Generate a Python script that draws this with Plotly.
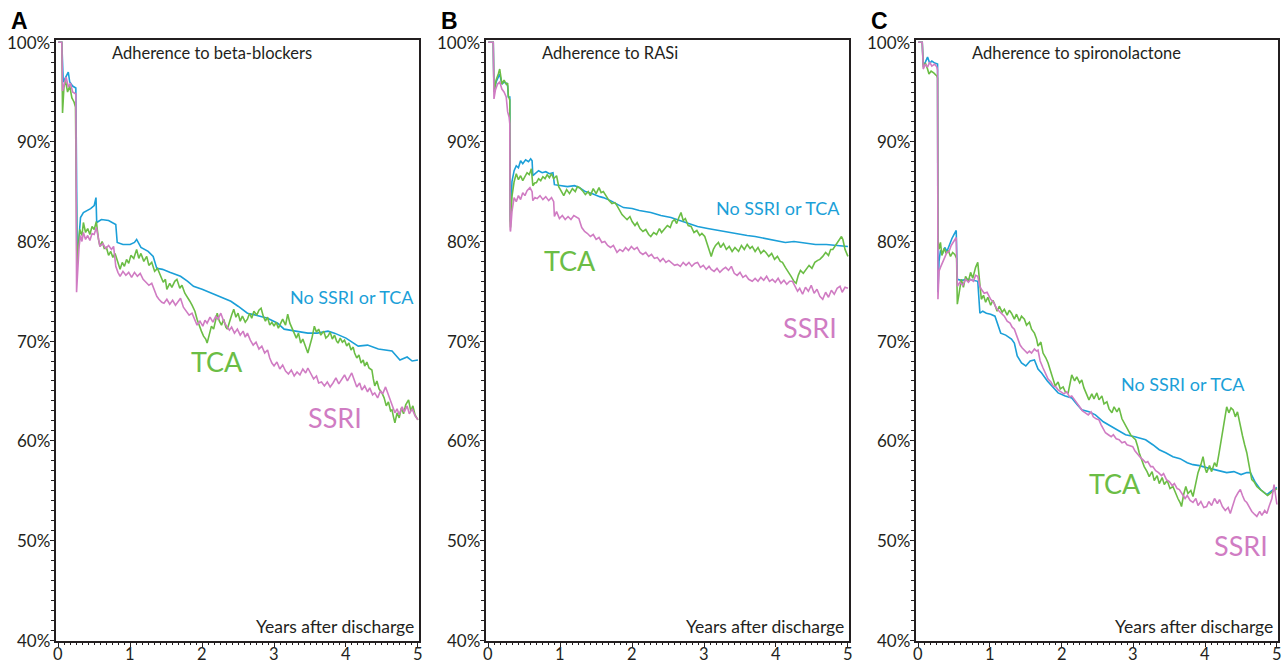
import plotly.graph_objects as go

W, H = 1285, 667
BLUE = '#1b9fd8'
GREEN = '#6bbd45'
PINK = '#d07cc3'
AX = '#231f20'

# ---------------- data ----------------
X_TICKS = [0, 1, 2, 3, 4, 5]
X_TICK_LABELS = ['0', '1', '2', '3', '4', '5']
Y_TICKS = [40, 50, 60, 70, 80, 90, 100]
Y_TICK_LABELS = ['40%', '50%', '60%', '70%', '80%', '90%', '100%']

PANEL_LETTERS = ['A', 'B', 'C']
PANEL_TITLES = ['Adherence to beta-blockers', 'Adherence to RASi', 'Adherence to spironolactone']
SERIES_NAMES = ['No SSRI or TCA', 'TCA', 'SSRI']

# Panel A - beta-blockers
A_none_t = [0, 0.05, 0.07, 0.10, 0.14, 0.16, 0.20, 0.245, 0.265, 0.29, 0.31, 0.35, 0.40, 0.45, 0.50, 0.525, 0.535, 0.60, 0.70, 0.80, 0.82, 0.90, 1.00, 1.06, 1.09, 1.15, 1.25, 1.32, 1.37, 1.45, 1.55, 1.70, 1.80, 1.88, 2.00, 2.16, 2.30, 2.40, 2.50, 2.63, 2.75, 2.91, 3.05, 3.14, 3.30, 3.47, 3.60, 3.75, 3.84, 4.00, 4.17, 4.30, 4.45, 4.64, 4.75, 4.85, 4.92, 5.0]
A_none_v = [100, 100, 96.0, 96.5, 97.0, 96.0, 95.6, 95.4, 77.7, 80.5, 82.4, 82.9, 83.1, 83.3, 83.6, 84.4, 81.9, 82.2, 82.1, 81.7, 79.9, 79.7, 79.7, 79.9, 80.2, 79.4, 79.0, 78.5, 77.3, 77.2, 76.9, 76.5, 76.0, 75.5, 75.2, 74.7, 74.3, 74.0, 73.5, 72.8, 72.6, 72.3, 71.8, 71.2, 71.0, 70.8, 70.8, 71.0, 70.8, 70.3, 69.5, 69.6, 69.2, 69.0, 68.1, 68.4, 68.0, 68.1]

A_tca_t = [0, 0.05, 0.06, 0.08, 0.10, 0.13, 0.16, 0.19, 0.22, 0.24, 0.245, 0.26, 0.28, 0.30, 0.33, 0.35, 0.38, 0.41, 0.44, 0.47, 0.50, 0.53, 0.56, 0.58, 0.61, 0.64, 0.67, 0.70, 0.73, 0.76, 0.79, 0.83, 0.86, 0.89, 0.92, 0.95, 0.98, 1.01, 1.05, 1.09, 1.12, 1.15, 1.19, 1.23, 1.26, 1.30, 1.34, 1.38, 1.42, 1.46, 1.49, 1.51, 1.55, 1.58, 1.62, 1.65, 1.69, 1.72, 1.76, 1.79, 1.83, 1.86, 1.90, 1.93, 1.96, 1.99, 2.02, 2.05, 2.07, 2.10, 2.13, 2.16, 2.19, 2.21, 2.24, 2.27, 2.30, 2.33, 2.35, 2.38, 2.41, 2.44, 2.47, 2.50, 2.53, 2.56, 2.60, 2.63, 2.66, 2.69, 2.72, 2.76, 2.79, 2.82, 2.85, 2.88, 2.91, 2.94, 2.97, 3.00, 3.03, 3.06, 3.09, 3.12, 3.16, 3.19, 3.22, 3.25, 3.28, 3.31, 3.34, 3.37, 3.40, 3.44, 3.47, 3.50, 3.53, 3.56, 3.59, 3.62, 3.65, 3.69, 3.72, 3.75, 3.78, 3.81, 3.84, 3.87, 3.89, 3.92, 3.95, 3.98, 4.01, 4.04, 4.07, 4.10, 4.12, 4.15, 4.18, 4.21, 4.24, 4.26, 4.29, 4.32, 4.36, 4.38, 4.40, 4.43, 4.46, 4.50, 4.53, 4.56, 4.59, 4.62, 4.64, 4.66, 4.68, 4.71, 4.74, 4.77, 4.80, 4.83, 4.87, 4.90, 4.93, 4.96, 5.0]
A_tca_v = [100, 100, 92.9, 95.5, 96.2, 95.0, 95.6, 94.4, 94.0, 93.5, 89.4, 77.4, 79.5, 81.2, 80.6, 81.9, 80.9, 81.3, 80.7, 81.5, 81.2, 82.0, 80.2, 79.5, 80.0, 79.3, 79.4, 78.6, 79.0, 78.4, 78.8, 77.8, 77.2, 77.9, 77.5, 78.2, 77.8, 78.6, 78.3, 79.2, 78.3, 78.8, 78.0, 78.5, 77.6, 77.9, 77.0, 77.3, 76.5, 75.9, 76.2, 75.2, 75.8, 75.4, 76.0, 76.2, 75.3, 75.6, 74.8, 74.5, 74.0, 73.6, 73.0, 72.2, 71.5, 71.0, 70.5, 70.2, 69.8, 70.8, 71.5, 71.2, 72.3, 72.8, 72.0, 71.6, 72.2, 71.4, 71.2, 72.0, 72.6, 73.2, 72.4, 72.8, 72.0, 72.5, 71.9, 72.2, 72.8, 72.3, 73.0, 72.6, 73.1, 73.3, 72.5, 72.0, 72.4, 71.6, 71.9, 71.5, 71.9, 71.3, 71.8, 72.2, 71.6, 72.7, 71.8, 71.2, 70.8, 70.3, 70.8, 69.8, 70.2, 69.4, 68.8, 69.6, 70.4, 71.5, 70.9, 71.2, 70.6, 71.0, 70.3, 70.5, 70.9, 70.2, 70.6, 70.0, 69.8, 70.3, 69.9, 70.1, 69.5, 69.8, 69.1, 69.4, 68.8, 68.3, 68.6, 67.8, 68.1, 67.5, 67.9, 67.3, 67.1, 66.2, 65.5, 66.0, 65.2, 64.8, 64.3, 63.5, 63.9, 63.0, 63.1, 62.4, 61.8, 62.8, 62.3, 63.3, 62.7, 63.6, 64.1, 63.0, 63.5, 62.6, 62.1]

A_ssri_t = [0, 0.05, 0.06, 0.08, 0.11, 0.14, 0.17, 0.20, 0.245, 0.255, 0.27, 0.29, 0.31, 0.33, 0.35, 0.38, 0.41, 0.44, 0.47, 0.50, 0.53, 0.56, 0.58, 0.62, 0.66, 0.70, 0.74, 0.77, 0.80, 0.83, 0.86, 0.90, 0.94, 0.98, 1.02, 1.06, 1.10, 1.14, 1.18, 1.22, 1.26, 1.30, 1.33, 1.37, 1.40, 1.44, 1.47, 1.51, 1.55, 1.59, 1.63, 1.67, 1.70, 1.74, 1.78, 1.82, 1.86, 1.89, 1.93, 1.97, 2.01, 2.04, 2.07, 2.11, 2.15, 2.19, 2.22, 2.26, 2.30, 2.34, 2.38, 2.41, 2.45, 2.49, 2.53, 2.57, 2.60, 2.63, 2.67, 2.71, 2.75, 2.79, 2.83, 2.87, 2.91, 2.94, 2.97, 3.00, 3.04, 3.08, 3.12, 3.16, 3.20, 3.24, 3.28, 3.32, 3.36, 3.40, 3.44, 3.47, 3.51, 3.55, 3.59, 3.62, 3.66, 3.70, 3.74, 3.78, 3.82, 3.86, 3.90, 3.94, 3.98, 4.02, 4.05, 4.08, 4.12, 4.15, 4.19, 4.22, 4.26, 4.30, 4.33, 4.37, 4.40, 4.44, 4.48, 4.51, 4.55, 4.59, 4.62, 4.65, 4.68, 4.71, 4.74, 4.78, 4.81, 4.85, 4.88, 4.92, 4.96, 5.0]
A_ssri_v = [100, 100, 95.1, 95.8, 96.5, 95.5, 95.9, 95.0, 94.8, 74.9, 77.5, 79.5, 80.6, 80.0, 80.9, 80.2, 80.6, 80.1, 80.8, 80.7, 81.4, 80.2, 79.5, 79.8, 79.3, 79.6, 79.2, 79.5, 77.5, 76.9, 76.5, 77.0, 76.6, 76.9, 76.4, 76.9, 76.5, 76.8, 76.2, 75.9, 75.6, 75.8, 75.2, 74.5, 74.2, 73.9, 73.8, 74.2, 73.7, 74.1, 73.6, 74.0, 74.3, 73.4, 73.0, 72.6, 72.8, 72.2, 71.6, 72.0, 71.5, 72.1, 71.8, 72.4, 71.9, 72.5, 72.2, 72.8, 72.0, 71.5, 71.1, 71.4, 70.8, 71.2, 70.6, 71.0, 70.4, 70.8, 70.1, 69.6, 69.9, 69.2, 69.5, 68.8, 69.1, 68.3, 67.8, 67.5, 67.9, 67.2, 67.6, 67.0, 66.7, 67.1, 66.5, 66.9, 66.6, 67.2, 66.8, 67.3, 66.7, 66.2, 66.5, 65.8, 65.9, 65.5, 65.9, 65.4, 65.8, 66.3, 65.7, 66.1, 66.6, 66.0, 66.4, 66.8, 66.0, 65.4, 65.8, 65.1, 65.5, 64.9, 65.3, 64.6, 64.8, 64.3, 65.0, 64.7, 65.4, 64.6, 63.9, 63.3, 62.8, 63.2, 62.6, 63.4, 62.9, 63.5, 62.7, 63.2, 62.5, 62.1]

# Panel B - RASi
B_none_t = [0, 0.07, 0.08, 0.11, 0.14, 0.16, 0.19, 0.22, 0.25, 0.27, 0.28, 0.30, 0.305, 0.31, 0.33, 0.36, 0.39, 0.42, 0.45, 0.48, 0.52, 0.56, 0.59, 0.61, 0.62, 0.66, 0.70, 0.75, 0.80, 0.85, 0.90, 0.92, 1.00, 1.10, 1.20, 1.27, 1.35, 1.45, 1.55, 1.60, 1.70, 1.80, 1.88, 2.00, 2.10, 2.26, 2.40, 2.54, 2.70, 2.80, 2.91, 3.05, 3.20, 3.29, 3.45, 3.60, 3.71, 3.85, 4.00, 4.13, 4.25, 4.41, 4.55, 4.70, 4.85, 5.0]
B_none_v = [100, 100, 95.1, 96.0, 96.5, 96.8, 95.8, 96.0, 95.9, 95.6, 94.5, 94.5, 83.1, 82.0, 86.0, 87.1, 87.6, 87.4, 88.1, 87.8, 88.2, 88.0, 88.3, 88.1, 86.6, 86.9, 87.1, 86.9, 87.0, 86.8, 86.9, 85.7, 85.6, 85.5, 85.6, 85.4, 85.0, 84.8, 84.5, 84.4, 84.1, 83.7, 83.4, 83.3, 83.1, 82.9, 82.6, 82.4, 82.0, 81.8, 81.5, 81.3, 81.1, 81.0, 80.8, 80.6, 80.5, 80.3, 80.1, 79.9, 80.0, 79.8, 79.7, 79.7, 79.6, 79.5]

B_tca_t = [0, 0.07, 0.08, 0.11, 0.14, 0.16, 0.19, 0.22, 0.25, 0.27, 0.28, 0.30, 0.305, 0.31, 0.33, 0.36, 0.39, 0.42, 0.45, 0.48, 0.51, 0.54, 0.57, 0.60, 0.62, 0.65, 0.67, 0.70, 0.73, 0.76, 0.79, 0.82, 0.85, 0.88, 0.91, 0.95, 0.98, 1.02, 1.05, 1.09, 1.13, 1.17, 1.21, 1.24, 1.27, 1.31, 1.35, 1.39, 1.42, 1.46, 1.50, 1.54, 1.57, 1.60, 1.64, 1.68, 1.72, 1.76, 1.79, 1.83, 1.86, 1.90, 1.93, 1.97, 2.00, 2.04, 2.07, 2.11, 2.15, 2.19, 2.23, 2.26, 2.30, 2.34, 2.38, 2.41, 2.45, 2.49, 2.53, 2.56, 2.59, 2.62, 2.65, 2.68, 2.71, 2.74, 2.78, 2.82, 2.86, 2.90, 2.94, 2.97, 3.01, 3.04, 3.07, 3.10, 3.13, 3.16, 3.20, 3.23, 3.27, 3.31, 3.35, 3.39, 3.43, 3.48, 3.52, 3.56, 3.60, 3.64, 3.67, 3.71, 3.75, 3.79, 3.83, 3.86, 3.90, 3.94, 3.98, 4.02, 4.06, 4.09, 4.13, 4.17, 4.21, 4.25, 4.28, 4.31, 4.34, 4.38, 4.42, 4.46, 4.50, 4.54, 4.58, 4.61, 4.65, 4.69, 4.73, 4.76, 4.79, 4.83, 4.87, 4.91, 4.93, 4.96, 5.0]
B_tca_v = [100, 100, 95.0, 96.2, 96.8, 97.3, 95.8, 96.2, 95.8, 95.9, 94.6, 94.2, 82.0, 81.4, 84.5, 86.0, 86.8, 86.2, 86.6, 86.1, 86.5, 86.9, 86.7, 87.3, 85.6, 85.9, 85.9, 86.3, 86.1, 86.5, 86.3, 86.7, 86.4, 86.8, 86.3, 86.6, 85.5, 84.9, 84.6, 85.2, 84.8, 85.3, 85.0, 85.5, 85.4, 85.1, 84.7, 85.0, 84.6, 85.3, 84.8, 85.4, 84.9, 85.0, 84.5, 84.1, 83.8, 83.9, 83.6, 83.0, 82.7, 82.4, 82.2, 82.5, 82.0, 81.6, 81.9, 81.3, 81.0, 81.2, 80.7, 80.5, 80.9, 80.7, 81.3, 80.9, 81.2, 81.6, 81.4, 82.0, 82.2, 81.8, 82.4, 82.9, 82.1, 82.3, 81.6, 81.5, 80.9, 81.1, 80.6, 80.8, 80.5, 79.9, 79.3, 78.5, 79.2, 79.6, 79.9, 79.4, 79.8, 79.2, 79.5, 79.0, 79.4, 79.0, 79.6, 79.2, 79.7, 79.3, 79.5, 79.0, 79.4, 78.8, 79.1, 78.9, 78.5, 78.8, 78.2, 78.5, 78.0, 77.9, 77.4, 77.0, 76.5, 76.0, 75.8, 76.6, 77.1, 76.8, 77.2, 77.6, 77.3, 77.9, 78.1, 78.2, 78.5, 78.9, 78.6, 79.2, 79.2, 79.6, 80.0, 80.5, 80.2, 79.2, 78.5]

B_ssri_t = [0, 0.07, 0.08, 0.10, 0.13, 0.16, 0.19, 0.22, 0.25, 0.27, 0.29, 0.30, 0.305, 0.31, 0.33, 0.36, 0.39, 0.42, 0.45, 0.48, 0.51, 0.54, 0.58, 0.61, 0.62, 0.65, 0.68, 0.72, 0.76, 0.80, 0.84, 0.88, 0.91, 0.92, 0.95, 0.99, 1.03, 1.07, 1.11, 1.15, 1.19, 1.23, 1.26, 1.30, 1.34, 1.38, 1.42, 1.46, 1.50, 1.54, 1.58, 1.62, 1.66, 1.70, 1.74, 1.79, 1.83, 1.87, 1.91, 1.95, 1.99, 2.03, 2.07, 2.11, 2.15, 2.19, 2.23, 2.27, 2.31, 2.35, 2.39, 2.43, 2.47, 2.51, 2.55, 2.59, 2.63, 2.67, 2.71, 2.75, 2.79, 2.83, 2.87, 2.91, 2.95, 2.99, 3.03, 3.07, 3.10, 3.14, 3.18, 3.22, 3.26, 3.30, 3.34, 3.38, 3.42, 3.46, 3.50, 3.54, 3.58, 3.62, 3.67, 3.71, 3.75, 3.79, 3.83, 3.87, 3.91, 3.95, 3.99, 4.03, 4.07, 4.11, 4.15, 4.19, 4.23, 4.27, 4.30, 4.33, 4.37, 4.41, 4.45, 4.49, 4.53, 4.57, 4.61, 4.65, 4.69, 4.73, 4.77, 4.81, 4.85, 4.89, 4.92, 4.96, 5.0]
B_ssri_v = [100, 100, 94.3, 95.2, 95.8, 96.0, 95.3, 95.0, 94.5, 93.0, 92.5, 91.8, 81.2, 81.0, 83.0, 84.4, 84.0, 84.6, 84.2, 84.9, 84.6, 85.1, 85.4, 85.0, 84.1, 84.4, 84.3, 84.6, 84.2, 84.5, 84.1, 84.4, 84.0, 82.5, 83.0, 82.3, 82.6, 82.2, 82.5, 82.2, 82.6, 82.4, 82.3, 81.4, 81.0, 80.8, 80.5, 80.7, 80.2, 80.4, 79.9, 80.0, 79.6, 79.4, 79.6, 78.9, 79.2, 79.0, 79.4, 79.1, 79.5, 79.2, 79.4, 78.9, 78.7, 78.9, 78.5, 78.7, 78.3, 78.4, 78.0, 78.3, 77.9, 78.1, 77.8, 77.6, 77.7, 77.5, 77.9, 77.6, 77.9, 77.5, 77.8, 77.9, 77.4, 77.6, 77.2, 77.5, 77.2, 77.0, 77.3, 76.9, 77.2, 77.4, 77.1, 77.5, 76.8, 76.6, 76.9, 76.4, 76.6, 76.2, 76.0, 76.3, 76.0, 76.4, 76.1, 76.5, 76.0, 76.2, 75.9, 76.3, 75.8, 76.1, 75.7, 76.0, 76.0, 75.4, 75.0, 75.3, 74.7, 75.4, 75.0, 75.6, 74.8, 75.2, 74.5, 74.2, 74.9, 74.4, 75.1, 74.7, 75.3, 75.5, 74.9, 75.4, 75.3]

# Panel C - spironolactone
C_none_t = [0, 0.056, 0.07, 0.10, 0.13, 0.16, 0.19, 0.23, 0.27, 0.275, 0.29, 0.31, 0.34, 0.37, 0.40, 0.44, 0.47, 0.50, 0.53, 0.545, 0.60, 0.70, 0.80, 0.83, 0.86, 0.90, 0.95, 1.01, 1.07, 1.12, 1.15, 1.22, 1.30, 1.34, 1.38, 1.44, 1.50, 1.56, 1.62, 1.67, 1.72, 1.80, 1.88, 1.95, 2.05, 2.14, 2.22, 2.28, 2.38, 2.47, 2.58, 2.70, 2.80, 2.89, 3.02, 3.17, 3.27, 3.36, 3.45, 3.55, 3.65, 3.75, 3.83, 3.92, 4.02, 4.12, 4.20, 4.30, 4.40, 4.50, 4.58, 4.63, 4.70, 4.77, 4.86, 4.93, 5.0]
C_none_v = [100, 100, 97.7, 98.0, 98.5, 97.9, 98.1, 97.9, 97.8, 74.9, 78.0, 79.1, 78.8, 79.4, 79.0, 79.8, 80.3, 80.7, 81.1, 76.2, 76.1, 76.2, 76.0, 76.0, 72.8, 73.0, 72.8, 72.7, 72.5, 71.5, 70.8, 70.6, 70.2, 69.8, 68.5, 67.8, 67.5, 68.0, 68.1, 67.2, 66.8, 66.0, 65.3, 64.8, 64.5, 64.3, 63.6, 63.1, 62.9, 62.6, 61.9, 61.4, 61.0, 60.6, 60.4, 60.1, 59.6, 59.1, 58.8, 58.4, 58.2, 57.8, 57.6, 57.5, 57.3, 57.1, 57.0, 56.8, 56.9, 56.6, 56.8, 56.8, 55.8, 55.1, 54.6, 55.0, 55.3]

C_tca_t = [0, 0.056, 0.07, 0.10, 0.13, 0.15, 0.18, 0.22, 0.26, 0.27, 0.275, 0.29, 0.31, 0.33, 0.36, 0.39, 0.42, 0.45, 0.48, 0.51, 0.535, 0.545, 0.57, 0.60, 0.63, 0.66, 0.70, 0.73, 0.76, 0.80, 0.83, 0.86, 0.88, 0.91, 0.94, 0.97, 1.01, 1.04, 1.06, 1.10, 1.13, 1.17, 1.20, 1.24, 1.27, 1.30, 1.34, 1.37, 1.41, 1.44, 1.48, 1.51, 1.55, 1.58, 1.62, 1.65, 1.67, 1.71, 1.74, 1.78, 1.81, 1.84, 1.88, 1.91, 1.95, 1.98, 2.02, 2.05, 2.09, 2.12, 2.14, 2.18, 2.21, 2.25, 2.28, 2.31, 2.35, 2.38, 2.42, 2.45, 2.49, 2.52, 2.56, 2.59, 2.63, 2.66, 2.70, 2.73, 2.77, 2.80, 2.84, 2.87, 2.89, 2.93, 2.96, 3.00, 3.03, 3.06, 3.08, 3.12, 3.15, 3.19, 3.22, 3.26, 3.29, 3.33, 3.36, 3.40, 3.43, 3.47, 3.51, 3.55, 3.58, 3.62, 3.65, 3.67, 3.70, 3.73, 3.76, 3.80, 3.83, 3.87, 3.90, 3.94, 3.97, 4.00, 4.02, 4.06, 4.09, 4.13, 4.16, 4.19, 4.22, 4.25, 4.28, 4.30, 4.33, 4.36, 4.39, 4.42, 4.45, 4.49, 4.52, 4.55, 4.58, 4.61, 4.63, 4.65, 4.68, 4.72, 4.77, 4.82, 4.87, 4.92, 4.96, 5.0]
C_tca_v = [100, 100, 97.5, 97.9, 97.3, 96.8, 97.1, 96.9, 96.6, 96.4, 80.1, 79.2, 79.9, 78.6, 79.3, 78.8, 79.1, 78.5, 78.9, 78.7, 78.3, 73.7, 74.8, 76.2, 75.4, 76.5, 76.0, 76.9, 76.3, 77.4, 77.9, 75.2, 74.2, 74.6, 73.9, 74.4, 73.6, 74.1, 73.8, 73.0, 73.5, 72.9, 73.2, 72.6, 73.1, 72.8, 72.2, 72.7, 72.0, 72.5, 72.2, 71.6, 71.9, 71.2, 70.8, 70.2, 69.5, 69.9, 68.8, 68.3, 67.8, 67.1, 66.3, 65.5, 65.9, 65.2, 65.4, 64.9, 64.8, 65.8, 66.6, 66.0, 66.4, 65.8, 66.1, 65.3, 64.6, 64.1, 64.7, 64.2, 64.8, 64.1, 64.5, 63.7, 63.9, 63.2, 62.8, 63.4, 62.9, 63.3, 62.2, 61.8, 61.4, 61.0, 60.6, 60.3, 60.1, 59.4, 58.8, 58.0, 57.4, 56.9, 56.4, 56.9, 56.0, 56.5, 55.7, 56.3, 55.6, 56.0, 55.2, 55.4, 54.8, 54.2, 53.8, 53.4, 54.6, 55.4, 54.7, 55.0, 54.4, 55.6, 56.8, 57.6, 58.4, 57.2, 56.8, 57.5, 56.9, 57.8, 57.4, 58.6, 60.0, 61.5, 62.6, 63.4, 62.8, 63.3, 63.1, 62.4, 62.9, 61.4, 60.5, 59.6, 58.8, 57.6, 56.8, 56.1, 55.9, 55.4, 55.1, 54.8, 54.5, 54.8, 55.0, 55.2]

C_ssri_t = [0, 0.056, 0.07, 0.10, 0.13, 0.16, 0.19, 0.23, 0.26, 0.27, 0.275, 0.29, 0.31, 0.34, 0.37, 0.40, 0.43, 0.46, 0.50, 0.53, 0.545, 0.58, 0.62, 0.66, 0.70, 0.73, 0.77, 0.80, 0.83, 0.86, 0.88, 0.92, 0.96, 1.01, 1.05, 1.09, 1.13, 1.17, 1.20, 1.24, 1.28, 1.31, 1.34, 1.38, 1.42, 1.45, 1.48, 1.52, 1.55, 1.58, 1.62, 1.65, 1.67, 1.70, 1.74, 1.77, 1.81, 1.85, 1.88, 1.92, 1.95, 1.99, 2.03, 2.07, 2.11, 2.14, 2.18, 2.22, 2.26, 2.29, 2.33, 2.37, 2.41, 2.44, 2.48, 2.52, 2.55, 2.58, 2.61, 2.65, 2.69, 2.72, 2.76, 2.80, 2.84, 2.88, 2.91, 2.95, 2.99, 3.02, 3.06, 3.10, 3.13, 3.17, 3.20, 3.24, 3.27, 3.31, 3.35, 3.39, 3.42, 3.46, 3.50, 3.54, 3.57, 3.61, 3.64, 3.68, 3.72, 3.75, 3.79, 3.83, 3.87, 3.90, 3.94, 3.98, 4.02, 4.05, 4.09, 4.13, 4.17, 4.20, 4.24, 4.28, 4.32, 4.35, 4.39, 4.42, 4.46, 4.49, 4.52, 4.55, 4.58, 4.62, 4.65, 4.69, 4.72, 4.76, 4.79, 4.83, 4.86, 4.89, 4.93, 4.96, 4.98, 5.0]
C_ssri_v = [100, 100, 97.3, 97.8, 97.5, 98.0, 97.6, 97.8, 97.5, 97.2, 74.2, 77.0, 77.4, 78.0, 78.4, 78.9, 79.0, 79.6, 80.0, 80.4, 75.5, 75.9, 75.6, 76.2, 75.9, 76.2, 76.0, 76.6, 76.5, 75.5, 75.2, 74.8, 74.9, 74.2, 73.9, 73.3, 73.0, 72.7, 72.5, 72.0, 71.8, 71.4, 71.2, 70.4, 69.6, 69.3, 69.1, 68.8, 69.0, 68.8, 69.2, 69.0, 69.1, 68.0, 67.3, 66.8, 66.2, 65.9, 65.5, 65.4, 65.1, 64.9, 64.7, 64.9, 64.4, 64.5, 64.1, 63.6, 63.3, 63.0, 62.8, 62.6, 62.9, 62.4, 62.2, 62.1, 61.6, 61.2, 60.8, 60.6, 60.4, 60.6, 60.2, 60.1, 59.8, 59.9, 59.6, 59.5, 59.4, 59.0, 58.6, 58.3, 58.1, 57.8, 57.9, 57.4, 57.4, 57.0, 56.8, 56.5, 56.7, 56.1, 55.9, 55.5, 55.7, 55.2, 55.1, 54.6, 54.2, 54.5, 54.0, 53.8, 54.2, 53.5, 53.9, 53.3, 53.4, 53.9, 53.5, 54.2, 53.7, 54.1, 53.4, 53.0, 53.3, 52.7, 53.5, 54.3, 54.8, 55.1, 54.5, 54.0, 53.8, 53.2, 52.9, 52.6, 52.4, 52.9, 52.5, 53.0, 52.7, 53.4, 54.2, 55.6, 54.8, 53.6]

# ---------------- figure ----------------
panels = [
    dict(none=(A_none_t, A_none_v), tca=(A_tca_t, A_tca_v), ssri=(A_ssri_t, A_ssri_v)),
    dict(none=(B_none_t, B_none_v), tca=(B_tca_t, B_tca_v), ssri=(B_ssri_t, B_ssri_v)),
    dict(none=(C_none_t, C_none_v), tca=(C_tca_t, C_tca_v), ssri=(C_ssri_t, C_ssri_v)),
]

# pixel layout of the three plot frames (left, right), shared top/bottom
frames_x = [(55.7, 419.0), (485.7, 849.0), (915.7, 1278.0)]
frame_top, frame_bottom = 39.5, 640.5


def px(x, y):
    return x / W, 1 - y / H


fig = go.Figure()
colors = dict(none=BLUE, tca=GREEN, ssri=PINK)
for i, p in enumerate(panels):
    suffix = '' if i == 0 else str(i + 1)
    for key in ['none', 'tca', 'ssri']:
        t, v = p[key]
        fig.add_trace(go.Scatter(x=t, y=v, mode='lines', xaxis='x' + suffix, yaxis='y' + suffix,
                                 line=dict(color=colors[key], width=1.6), showlegend=False,
                                 hoverinfo='skip'))

label_font = 'Lato, Open Sans, sans-serif'
layout = dict(width=W, height=H, margin=dict(l=0, r=0, t=0, b=0, autoexpand=False),
              paper_bgcolor='white', plot_bgcolor='white', showlegend=False)
ydom = [1 - frame_bottom / H, 1 - frame_top / H]
for i, (l, r) in enumerate(frames_x):
    suffix = '' if i == 0 else str(i + 1)
    layout['xaxis' + suffix] = dict(
        domain=[l / W, r / W], anchor='y' + suffix, range=[-0.035, 5.015], automargin=False,
        tickmode='array', tickvals=X_TICKS, showticklabels=False,
        ticks='outside', ticklen=5, tickwidth=1.2, tickcolor=AX,
        showline=True, linecolor=AX, linewidth=1.5, mirror=True,
        showgrid=False, zeroline=False,
        minor=dict(tickmode='linear', tick0=0, dtick=1 / 12, ticks='outside', ticklen=3,
                   tickcolor=AX, tickwidth=1, showgrid=False))
    layout['yaxis' + suffix] = dict(
        domain=ydom, anchor='x' + suffix, range=[39.95, 100.27], automargin=False,
        tickmode='array', tickvals=Y_TICKS, showticklabels=False,
        ticks='outside', ticklen=4, tickwidth=1.2, tickcolor=AX,
        showline=True, linecolor=AX, linewidth=1.5, mirror=True,
        showgrid=False, zeroline=False,
        minor=dict(tickmode='linear', tick0=40, dtick=1, ticks='outside', ticklen=2.5,
                   tickcolor=AX, tickwidth=1, showgrid=False))

annotations = []
offsets = [0, 430, 860]
# series label positions per panel (pixel centres)
series_pos = [
    [(352, 297), (217, 361), (335, 417)],
    [(778, 208), (570, 260), (810, 327)],
    [(1183, 384), (1115, 483), (1241, 545)],
]
series_sizes = [18, 27, 27]
series_colors = [BLUE, GREEN, PINK]
for i in range(3):
    l, r = frames_x[i]
    suffix = '' if i == 0 else str(i + 1)
    # tick labels
    for v, txt in zip(X_TICKS, X_TICK_LABELS):
        annotations.append(dict(text=txt, x=v, y=1 - 654 / H, xref='x' + suffix, yref='paper',
                                showarrow=False, xanchor='center', yanchor='middle',
                                font=dict(family=label_font, size=16.5, color=AX)))
    for v, txt in zip(Y_TICKS, Y_TICK_LABELS):
        annotations.append(dict(text=txt, x=(l - 3.5) / W, y=v, xref='paper', yref='y' + suffix,
                                showarrow=False, xanchor='right', yanchor='middle',
                                font=dict(family=label_font, size=17, color=AX)))
    x0, y0 = px(offsets[i] + 19, 21)
    annotations.append(dict(text=PANEL_LETTERS[i], x=x0, y=y0, xref='paper', yref='paper',
                            showarrow=False, xanchor='center', yanchor='middle',
                            font=dict(family='Liberation Sans, Arial, sans-serif', size=23,
                                      color='black', weight='bold')))
    tx, ty = px(l + 54.5, 53)
    annotations.append(dict(text=PANEL_TITLES[i], x=tx, y=ty, xref='paper', yref='paper',
                            showarrow=False, xanchor='left', yanchor='middle',
                            font=dict(family=label_font, size=16.5, color=AX)))
    yx, yy = px(r - 3, 626)
    annotations.append(dict(text='Years after discharge', x=yx, y=yy, xref='paper', yref='paper',
                            showarrow=False, xanchor='right', yanchor='middle',
                            font=dict(family=label_font, size=17.5, color=AX)))
    for j in range(3):
        sx, sy = px(*series_pos[i][j])
        annotations.append(dict(text=SERIES_NAMES[j], x=sx, y=sy, xref='paper', yref='paper',
                                showarrow=False, xanchor='center', yanchor='middle',
                                font=dict(family=label_font, size=series_sizes[j],
                                          color=series_colors[j])))
layout['annotations'] = annotations
fig.update_layout(**layout)
fig.write_html('out.html')
